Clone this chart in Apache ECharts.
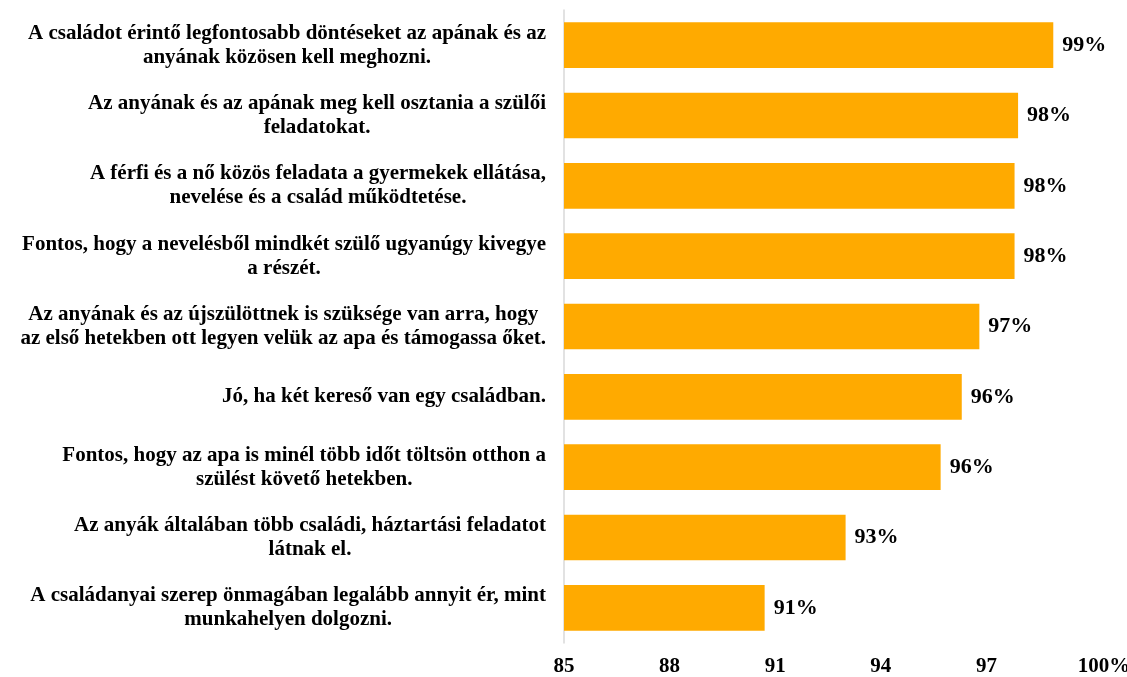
<!DOCTYPE html>
<html>
<head>
<meta charset="utf-8">
<script src="https://cdn.jsdelivr.net/npm/echarts@6/dist/echarts.min.js"></script>
<style>
  html, body { margin: 0; padding: 0; background: #fff; }
  #chart { width: 1127px; height: 677px; }
</style>
</head>
<body>
<div id="chart"></div>
<script>
// állítások (felülről lefelé)
const categories = [
  'A családot érintő legfontosabb döntéseket az apának és az\nanyának közösen kell meghozni.',
  'Az anyának és az apának meg kell osztania a szülői\nfeladatokat.',
  'A férfi és a nő közös feladata a gyermekek ellátása,\nnevelése és a család működtetése.',
  'Fontos, hogy a nevelésből mindkét szülő ugyanúgy kivegye\na részét.',
  'Az anyának és az újszülöttnek is szüksége van arra, hogy\naz első hetekben ott legyen velük az apa és támogassa őket.',
  'Jó, ha két kereső van egy családban.',
  'Fontos, hogy az apa is minél több időt töltsön otthon a\nszülést követő hetekben.',
  'Az anyák általában több családi, háztartási feladatot\nlátnak el.',
  'A családanyai szerep önmagában legalább annyit ér, mint\nmunkahelyen dolgozni.'
]
const values = [98.9, 97.9, 97.8, 97.8, 96.8, 96.3, 95.7, 93.0, 90.7]
const labelValues = [99, 98, 98, 98, 97, 96, 96, 93, 91]
const axisMin = 85
const axisMax = 100
const axisStep = 3

const font = '"Liberation Serif", "Times New Roman", serif'
const myChart = echarts.init(document.getElementById('chart'))

myChart.setOption({
  animation: false,
  grid: {
    left: 564,
    right: 35,
    top: 10,
    bottom: 34,
    outerBoundsMode: 'none'
  },
  xAxis: {
    type: 'value',
    min: axisMin,
    max: axisMax,
    interval: axisStep,
    axisLine: { show: false },
    axisTick: { show: false },
    splitLine: { show: false },
    axisLabel: {
      margin: 13,
      color: '#000',
      fontFamily: font,
      fontWeight: 'bold',
      fontSize: 21,
      formatter: v => v === axisMax ? '{p|' + v + '%}' : String(v),
      rich: {
        p: {
          padding: [0, 0, 0, 24],
          color: '#000',
          fontFamily: font,
          fontWeight: 'bold',
          fontSize: 21
        }
      }
    }
  },
  yAxis: {
    type: 'category',
    inverse: true,
    data: categories,
    axisLine: { show: true, lineStyle: { color: '#d9d9d9', width: 1.5 } },
    axisTick: { show: false },
    axisLabel: {
      margin: 18,
      formatter: s => s.split('\n').map(l => '{c|' + l + '}').join('\n'),
      rich: {
        c: {
          align: 'center',
          color: '#000',
          fontFamily: font,
          fontWeight: 'bold',
          fontSize: 21,
          lineHeight: 24
        }
      }
    }
  },
  series: [{
    type: 'bar',
    data: values,
    barCategoryGap: '35%',
    itemStyle: { color: '#FFAA00' },
    label: {
      show: true,
      position: 'right',
      distance: 9,
      color: '#000',
      fontFamily: font,
      fontWeight: 'bold',
      fontSize: 22,
      formatter: p => labelValues[p.dataIndex] + '%'
    }
  }]
})
</script>
</body>
</html>
